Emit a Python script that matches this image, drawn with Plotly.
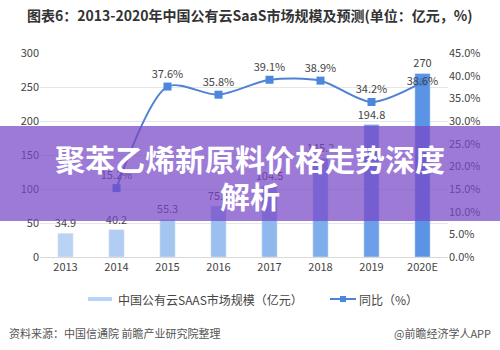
import plotly.graph_objects as go

years = ["2013", "2014", "2015", "2016", "2017", "2018", "2019", "2020E"]
market = [34.9, 40.2, 55.3, 75.1, 104.5, 145.2, 194.8, 270]
growth = [None, 15.2, 37.6, 35.8, 39.1, 38.9, 34.2, 38.6]
bar_colors = ["#b9d3f5", "#b1cdf3", "#a5c5f1", "#9bbff0", "#8fb8ee", "#7eadeb", "#6c9fe7", "#5b94e4"]
growth_pos = ["top center"] * 7 + ["middle center"]

FONT = "Noto Sans CJK SC"

fig = go.Figure()
fig.add_trace(go.Bar(
    x=years, y=market, marker_color=bar_colors, width=0.3,
    text=[f"{v:g}" for v in market], textposition="outside", constraintext="none",
    textfont=dict(size=11, color="#444", family=FONT),
    cliponaxis=False, name="中国公有云SAAS市场规模（亿元）", showlegend=False,
))
fig.add_trace(go.Scatter(
    x=years, y=growth, yaxis="y2", mode="lines+markers+text",
    line=dict(color="#4f82d4", width=2, shape="spline", smoothing=0.8),
    marker=dict(symbol="square", size=8, color="#4d86dd"),
    text=[None if g is None else f"{g:.1f}%" for g in growth],
    textposition=growth_pos, textfont=dict(size=11, color="#444", family=FONT),
    cliponaxis=False, name="同比（%）", showlegend=False, connectgaps=False,
))

fig.update_layout(
    width=500, height=350,
    margin=dict(l=40, r=52, t=53, b=93),
    paper_bgcolor="white", plot_bgcolor="white",
    font=dict(family=FONT, color="#444", size=11),
    bargap=0.7,
    xaxis=dict(showgrid=False, showline=True, linecolor="#d9d9d9", ticks="",
               tickfont=dict(size=11, color="#444")),
    yaxis=dict(range=[0, 300], dtick=50, showgrid=True, gridcolor="#e6e6e6",
               zeroline=False, tickfont=dict(size=11, color="#444")),
    yaxis2=dict(range=[0, 45], dtick=5, overlaying="y", side="right",
                showgrid=False, zeroline=False, ticksuffix="%", tickformat=".1f",
                tickfont=dict(size=11, color="#444")),
)

# Title
fig.add_annotation(text="<b>图表6：2013-2020年中国公有云SaaS市场规模及预测(单位：亿元，%)</b>",
                   xref="paper", yref="paper", x=(250 - 40) / 408, y=1, xanchor="center", yanchor="bottom",
                   yshift=26, showarrow=False,
                   font=dict(size=14, color="#333", family=FONT))

# Legend (drawn manually)
fig.add_shape(type="rect", xref="paper", yref="paper",
              x0=(88 - 40) / 408, x1=(112 - 40) / 408, y0=-0.196, y1=-0.216,
              fillcolor="#b9d3f5", line_width=0)
fig.add_annotation(text="中国公有云SAAS市场规模（亿元）", xref="paper", yref="paper",
                   x=(116 - 40) / 408, y=-0.206, xanchor="left", yanchor="middle",
                   showarrow=False, font=dict(size=12, color="#444", family=FONT))
fig.add_shape(type="line", xref="paper", yref="paper",
              x0=(330 - 40) / 408, x1=(356 - 40) / 408, y0=-0.206, y1=-0.206,
              line=dict(color="#4f82d4", width=2))
fig.add_shape(type="rect", xref="paper", yref="paper",
              x0=(340 - 40) / 408, x1=(346 - 40) / 408, y0=-0.191, y1=-0.221,
              fillcolor="#4d86dd", line_width=0)
fig.add_annotation(text="同比（%）", xref="paper", yref="paper",
                   x=(357 - 40) / 408, y=-0.206, xanchor="left", yanchor="middle",
                   showarrow=False, font=dict(size=12, color="#444", family=FONT))

# Footer
fig.add_annotation(text="资料来源：中国信通院 前瞻产业研究院整理", xref="paper", yref="paper",
                   x=-40 / 408, xshift=7, y=-(333 - 257) / 204, xanchor="left", yanchor="middle",
                   showarrow=False, font=dict(size=11, color="#555", family=FONT))
fig.add_annotation(text="@前瞻经济学人APP", xref="paper", yref="paper",
                   x=(493 - 40) / 408, y=-(333 - 257) / 204, xanchor="right", yanchor="middle",
                   showarrow=False, font=dict(size=11, color="#555", family=FONT))

# Purple banner overlay
fig.add_shape(type="rect", xref="paper", yref="paper",
              x0=-40 / 408, x1=460 / 408,
              y0=(257 - 221) / 204, y1=(257 - 126) / 204,
              fillcolor="rgba(120,70,200,0.72)", line_width=0, layer="above")
fig.add_annotation(text="<b>聚苯乙烯新原料价格走势深度</b>", xref="paper", yref="paper",
                   x=(250 - 40) / 408, y=(257 - 158) / 204, xanchor="center", yanchor="middle",
                   showarrow=False, font=dict(size=30, color="white", family=FONT))
fig.add_annotation(text="<b>解析</b>", xref="paper", yref="paper",
                   x=(250 - 40) / 408, y=(257 - 195) / 204, xanchor="center", yanchor="middle",
                   showarrow=False, font=dict(size=30, color="white", family=FONT))

fig.write_html("out.html")
